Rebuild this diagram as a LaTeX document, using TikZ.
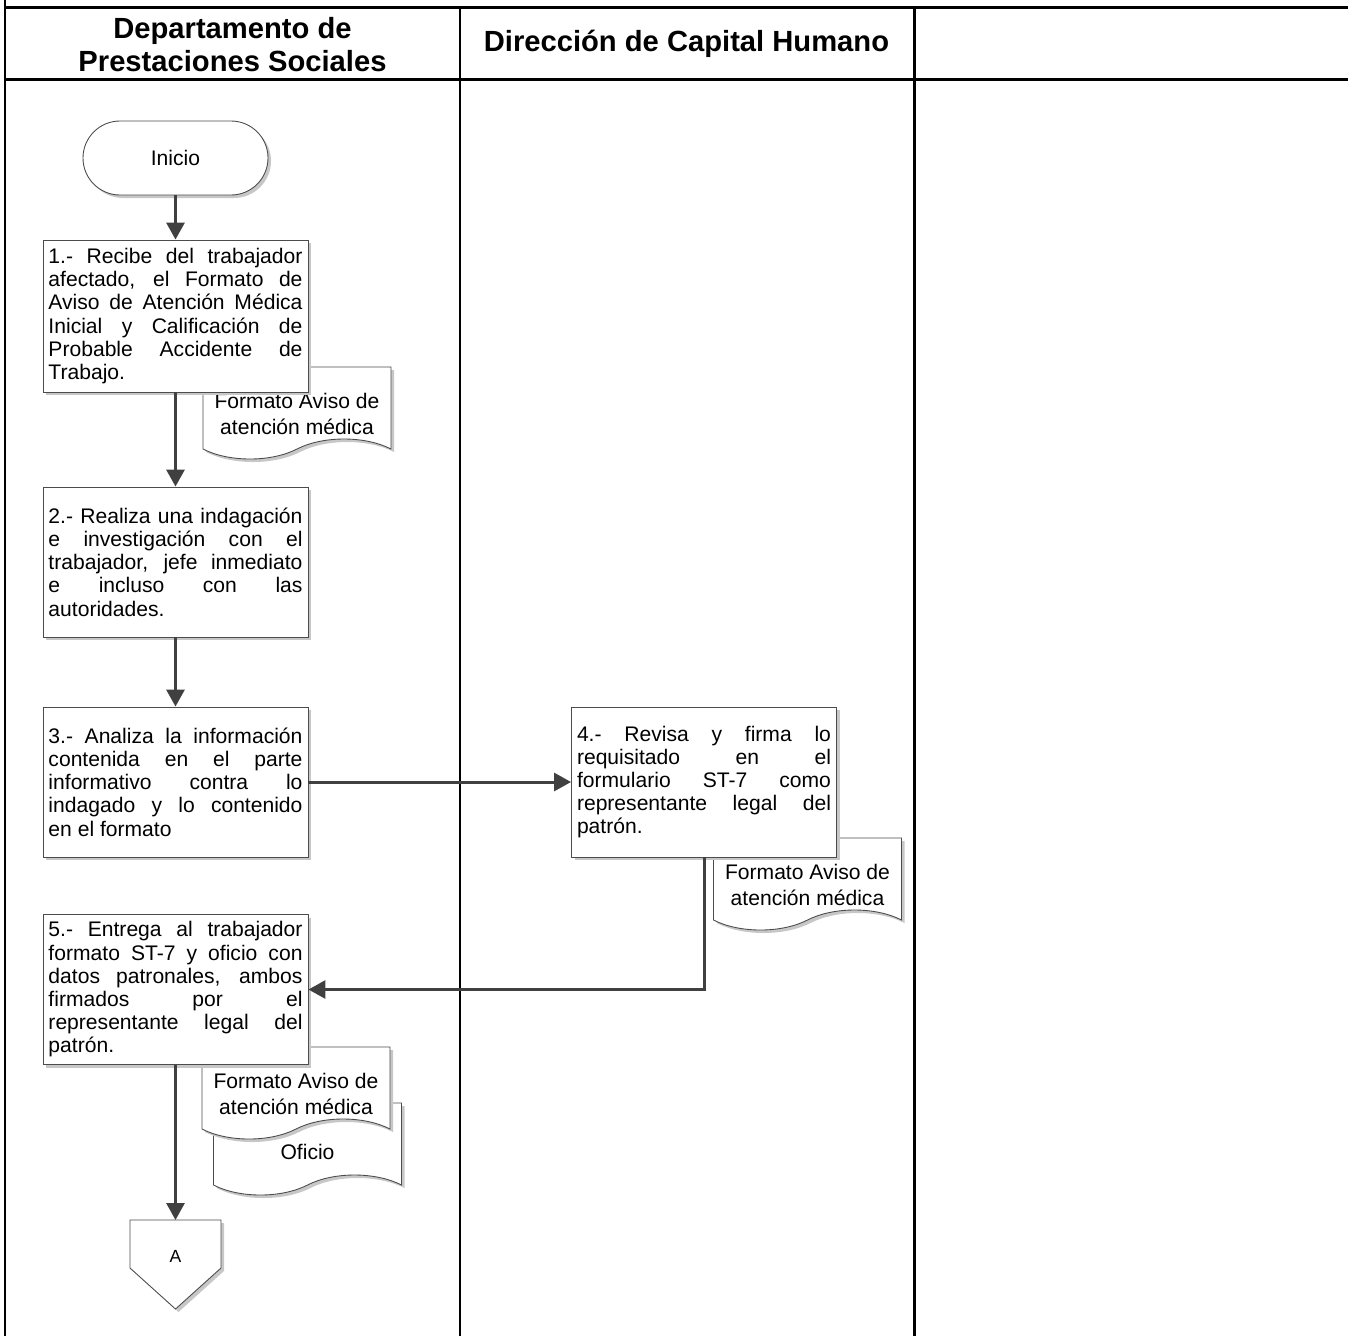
\documentclass[tikz,border=0pt]{standalone}
\usepackage{fontspec}
\setmainfont{Liberation Sans}
\usetikzlibrary{arrows.meta,positioning,calc,shapes.symbols,shadows}
\setlength{\parindent}{0pt}
\hbadness=10000

\begin{document}
\begin{tikzpicture}[x=0.2mm,y=-0.2mm,
  lane/.style={line width=1.7pt,black},
  head/.style={font=\fontsize{16.6}{18.8}\selectfont\bfseries,align=center},
  shade/.style={drop shadow={shadow xshift=0.6mm,shadow yshift=-0.6mm,fill=black!22,opacity=1}},
  task/.style={draw=black!70,line width=0.5pt,fill=white,shade,minimum width=53mm,minimum height=30mm,
    text width=50.8mm,inner xsep=1.1mm,align=justify,font=\fontsize{12}{13.2}\selectfont},
  term/.style={draw=black!70,line width=0.5pt,fill=white,shade,rounded corners=7.4mm,
    minimum width=37mm,minimum height=14.8mm,font=\fontsize{12}{14}\selectfont},
  doc/.style={tape,tape bend top=none,tape bend bottom=in and out,tape bend height=4mm,
    draw=black!70,line width=0.5pt,fill=white,shade,minimum width=37.6mm,minimum height=18.4mm},
  doctext/.style={align=center,font=\fontsize{12}{14.6}\selectfont},
  offpage/.style={draw=black!70,line width=0.5pt,fill=white,shade},
  link/.style={line width=0.6mm,draw=black!75,-{Triangle[length=3.4mm,width=3.6mm]}}
]
\useasboundingbox (0,0) rectangle (1348,1336);

% swimlanes
\draw[lane] (5,0) -- (5,1336);
\draw[lane] (5,7) -- (1348,7);
\draw[lane] (5,79) -- (1348,79);
\draw[lane] (460,7) -- (460,1336);
\draw[lane] (914,7) -- (914,1336);
\node[head] (hdrdep) at (232.5,45) {Departamento de\\Prestaciones Sociales};
\node[head] (hdrdch) at (686.5,44) {Dirección de Capital Humano};

% documents
\node[doc] (docone) at (297,403) {};
\node[doctext] (doconetext) at (297,414) {Formato Aviso de\\atención médica};
\node[doc] (docfour) at (807.5,874) {};
\node[doctext] (docfourtext) at (807.5,885) {Formato Aviso de\\atención médica};
\node[doc] (docoficio) at (307.5,1139) {};
\node[doctext] (docoficiotext) at (307.5,1152) {Oficio};
\node[doc] (docfive) at (296,1083) {};
\node[doctext] (docfivetext) at (296,1094) {Formato Aviso de\\atención médica};

% steps
\node[term] (inicio) at (175.5,158) {Inicio};
\node[task,minimum height=30.4mm] (stepone) at (175.5,316) {1.- Recibe del trabajador\linebreak afectado, el Formato de\linebreak Aviso de Atención Médica\linebreak Inicial y Calificación de\linebreak Probable Accidente de\linebreak Trabajo.};
\node[task] (steptwo) at (175.5,562) {2.- Realiza una indagación\linebreak e investigación con el\linebreak trabajador, jefe inmediato\linebreak e incluso con las\linebreak autoridades.};
\node[task] (stepthree) at (175.5,782) {3.- Analiza la información\linebreak contenida en el parte\linebreak informativo contra lo\linebreak indagado y lo contenido\linebreak en el formato};
\node[task] (stepfour) at (704,782) {4.- Revisa y firma lo\linebreak requisitado en el\linebreak formulario ST-7 como\linebreak representante legal del\linebreak patrón.};
\node[task] (stepfive) at (175.5,989.5) {5.- Entrega al trabajador\linebreak formato ST-7 y oficio con\linebreak datos patronales, ambos\linebreak firmados por el\linebreak representante legal del\linebreak patrón.};

% off-page connector
\draw[offpage] (130,1220) -- (221,1220) -- (221,1268) -- (175.5,1309) -- (130,1268) -- cycle;
\coordinate (offtop) at (175.5,1220);
\node[font=\fontsize{10}{12}\selectfont] (offA) at (175.5,1256) {A};

% flow
\draw[link] (inicio) -- (stepone);
\draw[link] (stepone) -- (steptwo);
\draw[link] (steptwo) -- (stepthree);
\draw[link] (stepthree) -- (stepfour);
\draw[link] (stepfour.south) |- (stepfive.east);
\draw[link] (stepfive) -- (offtop);
\end{tikzpicture}
\end{document}
